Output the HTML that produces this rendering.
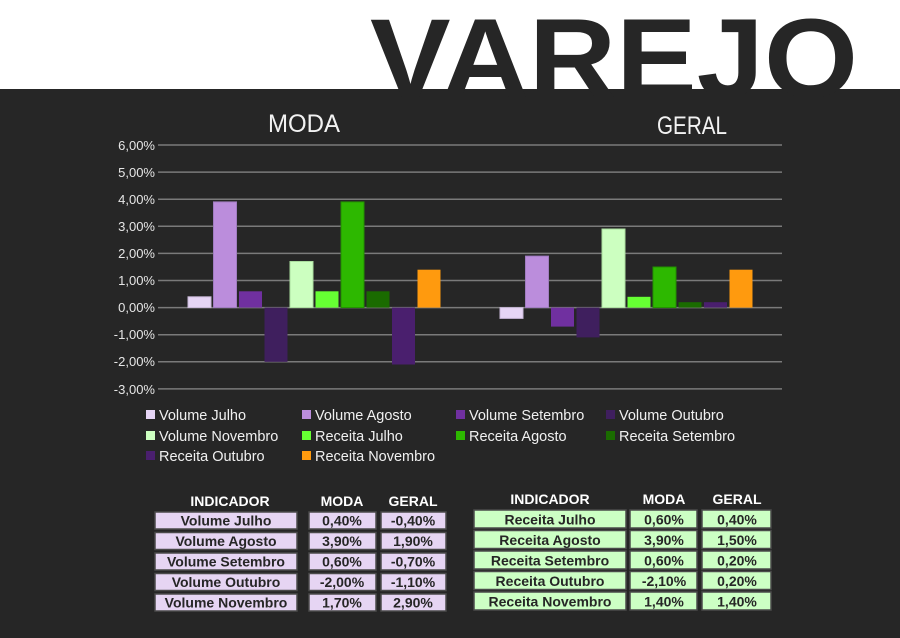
<!DOCTYPE html>
<html><head><meta charset="utf-8"><style>
html,body{margin:0;padding:0;background:#fff;width:900px;height:638px;overflow:hidden}
svg{display:block;font-family:"Liberation Sans",sans-serif}
</style></head><body>
<svg width="900" height="638" viewBox="0 0 900 638" xmlns="http://www.w3.org/2000/svg">
<rect x="0" y="0" width="900" height="89" fill="#ffffff"/>
<rect x="0" y="89" width="900" height="549" fill="#262626"/>
<text x="370" y="97" font-size="112" font-weight="bold" fill="#262626" textLength="488" lengthAdjust="spacingAndGlyphs">VAREJO</text>
<text x="268" y="132" font-size="25" fill="#f2f2f2" textLength="72" lengthAdjust="spacingAndGlyphs">MODA</text>
<text x="657" y="134" font-size="25" fill="#f2f2f2" textLength="70" lengthAdjust="spacingAndGlyphs">GERAL</text>
<g stroke="#7a7a7a" stroke-width="1.5">
<line x1="158" y1="145" x2="782" y2="145"/><line x1="158" y1="172.1" x2="782" y2="172.1"/>
<line x1="158" y1="199.2" x2="782" y2="199.2"/><line x1="158" y1="226.3" x2="782" y2="226.3"/>
<line x1="158" y1="253.4" x2="782" y2="253.4"/><line x1="158" y1="280.5" x2="782" y2="280.5"/>
<line x1="158" y1="307.6" x2="782" y2="307.6"/><line x1="158" y1="334.7" x2="782" y2="334.7"/>
<line x1="158" y1="361.8" x2="782" y2="361.8"/><line x1="158" y1="388.9" x2="782" y2="388.9"/>
</g>
<g font-size="13" fill="#e6e6e6" text-anchor="end">
<text x="155" y="150">6,00%</text><text x="155" y="177">5,00%</text><text x="155" y="204">4,00%</text>
<text x="155" y="231">3,00%</text><text x="155" y="258">2,00%</text><text x="155" y="285">1,00%</text>
<text x="155" y="312">0,00%</text><text x="155" y="339">-1,00%</text><text x="155" y="366">-2,00%</text>
<text x="155" y="394">-3,00%</text>
</g>
<g stroke-width="1">
<rect x="188" y="296.8" width="23" height="10.8" fill="#e6d5f5" stroke="#c8b8d8"/>
<rect x="213.5" y="201.9" width="23" height="105.7" fill="#bb8ddc" stroke="#a07cc0"/>
<rect x="239" y="291.3" width="23" height="16.3" fill="#7030a0"/>
<rect x="264.5" y="307.6" width="23" height="54.2" fill="#3f1f5e"/>
<rect x="290" y="261.5" width="23" height="46.1" fill="#ccffc0" stroke="#aadd9e"/>
<rect x="315.5" y="291.3" width="23" height="16.3" fill="#66ff33"/>
<rect x="341" y="201.9" width="23" height="105.7" fill="#2db800" stroke="#239000"/>
<rect x="366.5" y="291.3" width="23" height="16.3" fill="#1a6b00"/>
<rect x="392" y="307.6" width="23" height="56.9" fill="#4a1f6e"/>
<rect x="417.5" y="269.7" width="23" height="37.9" fill="#ff9a0e"/>
<rect x="500" y="307.6" width="23" height="10.8" fill="#e6d5f5" stroke="#c8b8d8"/>
<rect x="525.5" y="256.1" width="23" height="51.5" fill="#bb8ddc" stroke="#a07cc0"/>
<rect x="551" y="307.6" width="23" height="19" fill="#7030a0"/>
<rect x="576.5" y="307.6" width="23" height="29.8" fill="#3f1f5e"/>
<rect x="602" y="229" width="23" height="78.6" fill="#ccffc0" stroke="#aadd9e"/>
<rect x="627.5" y="296.8" width="23" height="10.8" fill="#66ff33"/>
<rect x="653" y="267" width="23" height="40.6" fill="#2db800" stroke="#239000"/>
<rect x="678.5" y="302.2" width="23" height="5.4" fill="#1a6b00"/>
<rect x="704" y="302.2" width="23" height="5.4" fill="#4a1f6e"/>
<rect x="729.5" y="269.7" width="23" height="37.9" fill="#ff9a0e"/>
</g>
<g font-size="14.5" fill="#f0f0f0">
<rect x="146" y="410" width="9" height="9" fill="#e6d5f5"/><text x="159" y="420">Volume Julho</text>
<rect x="302" y="410" width="9" height="9" fill="#bb8ddc"/><text x="315" y="420">Volume Agosto</text>
<rect x="456" y="410" width="9" height="9" fill="#7030a0"/><text x="469" y="420">Volume Setembro</text>
<rect x="606" y="410" width="9" height="9" fill="#3f1f5e"/><text x="619" y="420">Volume Outubro</text>
<rect x="146" y="431" width="9" height="9" fill="#ccffc0"/><text x="159" y="441">Volume Novembro</text>
<rect x="302" y="431" width="9" height="9" fill="#66ff33"/><text x="315" y="441">Receita Julho</text>
<rect x="456" y="431" width="9" height="9" fill="#2db800"/><text x="469" y="441">Receita Agosto</text>
<rect x="606" y="431" width="9" height="9" fill="#1a6b00"/><text x="619" y="441">Receita Setembro</text>
<rect x="146" y="451" width="9" height="9" fill="#4a1f6e"/><text x="159" y="461">Receita Outubro</text>
<rect x="302" y="451" width="9" height="9" fill="#ff9a0e"/><text x="315" y="461">Receita Novembro</text>
</g>
<g font-size="14" font-weight="bold" text-anchor="middle">
<g fill="#ffffff"><text x="230" y="506">INDICADOR</text><text x="342" y="506">MODA</text><text x="413" y="506">GERAL</text></g>
<g fill="#e6d5f3" stroke="#4a4a4a" stroke-width="1.5">
<rect x="155" y="512" width="142" height="17"/><rect x="309" y="512" width="67" height="17"/><rect x="381" y="512" width="65" height="17"/>
<rect x="155" y="532.5" width="142" height="17"/><rect x="309" y="532.5" width="67" height="17"/><rect x="381" y="532.5" width="65" height="17"/>
<rect x="155" y="553" width="142" height="17"/><rect x="309" y="553" width="67" height="17"/><rect x="381" y="553" width="65" height="17"/>
<rect x="155" y="573.5" width="142" height="17"/><rect x="309" y="573.5" width="67" height="17"/><rect x="381" y="573.5" width="65" height="17"/>
<rect x="155" y="594" width="142" height="17"/><rect x="309" y="594" width="67" height="17"/><rect x="381" y="594" width="65" height="17"/>
</g>
<g fill="#262626">
<text x="226" y="525.5">Volume Julho</text><text x="342" y="525.5">0,40%</text><text x="413" y="525.5">-0,40%</text>
<text x="226" y="546">Volume Agosto</text><text x="342" y="546">3,90%</text><text x="413" y="546">1,90%</text>
<text x="226" y="566.5">Volume Setembro</text><text x="342" y="566.5">0,60%</text><text x="413" y="566.5">-0,70%</text>
<text x="226" y="587">Volume Outubro</text><text x="342" y="587">-2,00%</text><text x="413" y="587">-1,10%</text>
<text x="226" y="607.5">Volume Novembro</text><text x="342" y="607.5">1,70%</text><text x="413" y="607.5">2,90%</text>
</g>
<g fill="#ffffff"><text x="550" y="504">INDICADOR</text><text x="664" y="504">MODA</text><text x="737" y="504">GERAL</text></g>
<g fill="#ccffc4" stroke="#4a4a4a" stroke-width="1.5">
<rect x="474" y="510" width="152" height="18"/><rect x="630" y="510" width="67" height="18"/><rect x="702" y="510" width="69" height="18"/>
<rect x="474" y="530.5" width="152" height="18"/><rect x="630" y="530.5" width="67" height="18"/><rect x="702" y="530.5" width="69" height="18"/>
<rect x="474" y="551" width="152" height="18"/><rect x="630" y="551" width="67" height="18"/><rect x="702" y="551" width="69" height="18"/>
<rect x="474" y="571.5" width="152" height="18"/><rect x="630" y="571.5" width="67" height="18"/><rect x="702" y="571.5" width="69" height="18"/>
<rect x="474" y="592" width="152" height="18"/><rect x="630" y="592" width="67" height="18"/><rect x="702" y="592" width="69" height="18"/>
</g>
<g fill="#262626">
<text x="550" y="524.5">Receita Julho</text><text x="664" y="524.5">0,60%</text><text x="737" y="524.5">0,40%</text>
<text x="550" y="545">Receita Agosto</text><text x="664" y="545">3,90%</text><text x="737" y="545">1,50%</text>
<text x="550" y="565.5">Receita Setembro</text><text x="664" y="565.5">0,60%</text><text x="737" y="565.5">0,20%</text>
<text x="550" y="586">Receita Outubro</text><text x="664" y="586">-2,10%</text><text x="737" y="586">0,20%</text>
<text x="550" y="606.5">Receita Novembro</text><text x="664" y="606.5">1,40%</text><text x="737" y="606.5">1,40%</text>
</g>
</g>
</svg>
</body></html>
